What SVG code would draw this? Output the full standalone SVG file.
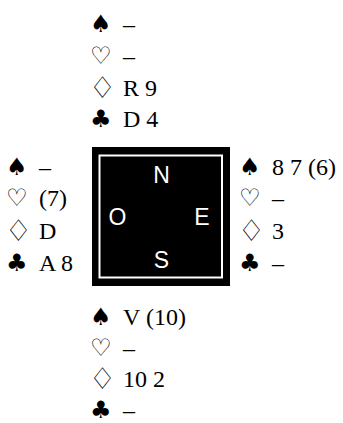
<svg xmlns="http://www.w3.org/2000/svg" width="343" height="423" viewBox="0 0 343 423">
<style>
.t{font-family:"Liberation Serif","Times New Roman",serif;font-size:24px;fill:#000}
.s{font-family:"DejaVu Sans",sans-serif;font-size:24px;fill:#000}
.h{font-family:"DejaVu Sans",sans-serif;font-size:24px;font-weight:bold;fill:#000}
.d{font-family:"DejaVu Sans",sans-serif;font-size:30px;font-weight:bold;fill:#000}
.c{font-family:"Liberation Sans",Arial,sans-serif;font-size:23px;fill:#fff;text-anchor:middle}
</style>
<rect width="343" height="423" fill="#fff"/>
<g id="north">
<text class="s" x="90" y="32">♠</text><text class="t" x="123" y="32">–</text>
<text class="h" x="90" y="64">♡</text><text class="t" x="123" y="64">–</text>
<text class="d" x="89" y="98">♢</text><text class="t" x="123" y="96">R 9</text>
<text class="s" x="90" y="127">♣</text><text class="t" x="123" y="127">D 4</text>
</g>
<g id="west">
<text class="s" x="6" y="175">♠</text><text class="t" x="39" y="175">–</text>
<text class="h" x="6" y="206">♡</text><text class="t" x="39" y="206">(7)</text>
<text class="d" x="5" y="241">♢</text><text class="t" x="39" y="239">D</text>
<text class="s" x="6" y="271">♣</text><text class="t" x="39" y="271">A 8</text>
</g>
<g id="east">
<text class="s" x="239" y="175">♠</text><text class="t" x="272" y="175">8 7 (6)</text>
<text class="h" x="239" y="206">♡</text><text class="t" x="272" y="206">–</text>
<text class="d" x="238" y="241">♢</text><text class="t" x="272" y="239">3</text>
<text class="s" x="239" y="271">♣</text><text class="t" x="272" y="271">–</text>
</g>
<g id="south">
<text class="s" x="90" y="325">♠</text><text class="t" x="123" y="325">V (10)</text>
<text class="h" x="90" y="356">♡</text><text class="t" x="123" y="356">–</text>
<text class="d" x="89" y="389">♢</text><text class="t" x="123" y="387">10 2</text>
<text class="s" x="90" y="418">♣</text><text class="t" x="123" y="418">–</text>
</g>
<g id="table">
<rect x="92" y="147" width="138" height="139" fill="#000"/>
<rect x="99.5" y="155.5" width="122.5" height="122" fill="none" stroke="#fff" stroke-width="2"/>
<text class="c" x="161.5" y="183">N</text>
<text class="c" x="117.5" y="225">O</text>
<text class="c" x="202" y="225">E</text>
<text class="c" x="161.5" y="268">S</text>
</g>
<g id="connectors"/>
</svg>
